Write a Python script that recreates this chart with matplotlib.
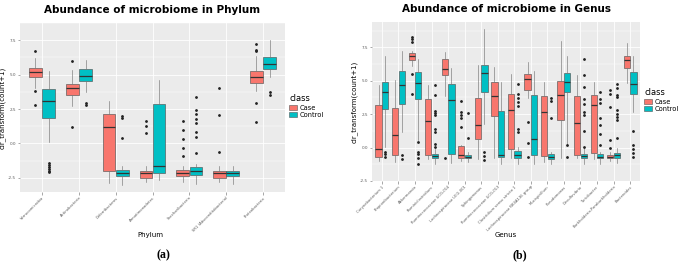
import matplotlib
matplotlib.use('Agg')
import matplotlib.pyplot as plt
from matplotlib.patches import Patch

# ---------------- Phylum data ----------------
phylum = ["Verrucomicrobia", "Actinobacteria", "Deferribacteres", "Armatimonadetes",
          "Saccharibacteria", "SR1 (Absconditabacteria)", "Proteobacteria"]
ph_case_lo  = [4.06, 2.69, -2.90, -2.83, -2.83, -2.83, 3.84]
ph_case_q1  = [4.86, 3.54, -2.03, -2.49, -2.40, -2.49, 4.41]
ph_case_med = [5.16, 4.02, 1.16, -2.17, -2.15, -2.15, 4.86]
ph_case_q3  = [5.50, 4.29, 2.12, -2.03, -1.94, -2.03, 5.27]
ph_case_hi  = [6.18, 5.32, 3.10, -1.64, -1.64, -1.64, 6.35]
ph_case_fl  = [[6.69, 3.84, 2.81], [5.96, 1.21], [], [1.66, 1.25, 0.75],
               [1.62, 0.98, 0.29, -0.32, -0.89], [4.06, 2.05, -0.62],
               [7.19, 6.80, 6.69, 2.97, 1.55]]
ph_ctrl_lo  = [0.07, 3.77, -3.00, -2.67, -2.97, -2.95, 4.79]
ph_ctrl_q1  = [1.83, 4.52, -2.38, -2.15, -2.33, -2.40, 5.43]
ph_ctrl_med = [3.10, 4.91, -2.15, -1.64, -1.99, -2.15, 5.77]
ph_ctrl_q3  = [3.99, 5.39, -1.94, 2.85, -1.71, -1.99, 6.28]
ph_ctrl_hi  = [5.25, 6.05, -1.64, 4.59, -1.53, -1.64, 7.53]
ph_ctrl_fl  = [[-1.42, -1.55, -1.70, -1.85, -2.00, -2.10], [2.97, 2.76], [2.00, 1.83, 0.41], [],
               [3.34, 2.40, 2.12, 1.78, 1.47, 0.85, 0.48, -0.66], [], [3.77, 3.54]]

# ---------------- Genus data ----------------
genus = ["Corynebacterium 1", "Propionibacterium", "Akkermansia", "Ruminiclostridium",
         "Ruminococcaceae UCG-014", "Lachnospiraceae UCG-001", "Sphingomonas",
         "Ruminococcaceae UCG-013", "Clostridium sensu stricto 1",
         "Lachnospiraceae NK4A136 group", "Mucispirillum", "Pseudomonas", "Desulfovibrio",
         "Turicibacter", "Burkholderia-Paraburkholderia", "Bacteroides"]
ge_case_lo  = [-0.99, -1.10, 6.10, -0.87, 3.83, -1.03, -0.87, -0.75, -0.75, 3.71, -1.10, -0.75, -0.75, -0.87, -1.00, 4.81]
ge_case_q1  = [-0.68, -0.56, 6.53, -0.59, 5.47, -0.75, 0.66, 2.37, -0.09, 4.30, -0.63, 2.06, -0.56, -0.40, -0.80, 5.94]
ge_case_med = [-0.12, 0.94, 6.83, 2.02, 5.89, -0.59, 1.71, 3.87, 2.82, 5.12, 2.70, 3.94, 1.83, 3.17, -0.68, 6.53]
ge_case_q3  = [3.17, 2.93, 7.06, 3.66, 6.64, 0.12, 3.71, 4.88, 4.01, 5.54, 3.89, 5.00, 3.89, 3.94, -0.56, 6.88]
ge_case_hi  = [4.65, 5.07, 7.23, 4.69, 7.18, 0.23, 6.17, 6.06, 5.54, 6.41, 4.93, 8.00, 5.40, 4.88, -0.35, 7.82]
ge_case_fl  = [[], [], [8.24, 8.10, 7.94, 5.51, 3.99], [], [-0.75], [3.47, 2.65, 2.45, 2.25, 1.55],
               [], [], [], [1.95, 0.37, -0.68], [], [], [], [], [4.30, 3.99, 3.05, 0.54, -0.05], []]
ge_ctrl_lo  = [0.07, 1.13, 0.56, -1.20, -1.17, -1.10, 1.76, -1.22, -1.22, -1.22, -1.20, 0.19, -1.22, -1.20, -1.17, 2.70]
ge_ctrl_q1  = [2.89, 3.24, 3.64, -0.77, -0.51, -0.80, 4.18, -0.68, -0.75, -0.56, -0.82, 4.13, -0.80, -0.80, -0.80, 4.01]
ge_ctrl_med = [4.13, 4.72, 4.81, -0.63, 3.59, -0.68, 5.58, -0.56, -0.59, 0.66, -0.68, 4.93, -0.63, -0.68, -0.59, 4.77]
ge_ctrl_q3  = [4.93, 5.70, 5.63, -0.47, 4.77, -0.56, 6.17, 2.72, -0.28, 3.94, -0.51, 5.58, -0.47, -0.51, -0.40, 5.65]
ge_ctrl_hi  = [6.88, 7.23, 6.64, -0.14, 5.94, -0.35, 8.87, 4.88, 0.07, 5.70, -0.35, 6.88, 0.07, -0.35, -0.05, 6.88]
ge_ctrl_fl  = [[-0.35, -0.50, -0.68], [-0.56, -0.85], [0.42, -0.30, -0.50, -0.77, -1.20],
               [4.65, 3.94, 2.77, 2.60, 2.42, 1.36, 1.20, 0.30, 0.07], [], [2.60, 0.70],
               [-0.35, -0.60, -0.92], [], [4.77, 3.99, 3.70, 3.40, 3.12, 1.36, 1.13],
               [], [3.71, 3.47, 2.18], [0.19, -0.68],
               [6.64, 5.47, 4.53, 3.64, 3.29, 2.65, 2.42, 1.24, 0.07],
               [4.18, 3.64, 3.36, 2.23, 1.71, 1.01, 0.19],
               [4.77, 4.46, 3.94, 3.76, 2.82, 2.55, 2.30, 2.06, 0.73],
               [1.24, 0.23, -0.10, -0.40, -0.68]]

CASE_C = "#F8766D"
CTRL_C = "#00BFC4"


def make_stats(lo, q1, med, q3, hi, fl):
    return [dict(whislo=a, q1=b, med=c, q3=d, whishi=e, fliers=f)
            for a, b, c, d, e, f in zip(lo, q1, med, q3, hi, fl)]


def draw(ax, cats, case, ctrl, ylim, off, w):
    n = len(cats)
    xs = list(range(1, n + 1))
    for stats, color, sgn in ((case, CASE_C, -1), (ctrl, CTRL_C, 1)):
        ax.bxp(stats, positions=[x + sgn * off for x in xs], widths=w,
               patch_artist=True, showcaps=False,
               boxprops=dict(facecolor=color, edgecolor="#555555", linewidth=0.45),
               medianprops=dict(color="#333333", linewidth=0.9),
               whiskerprops=dict(color="#777777", linewidth=0.45),
               flierprops=dict(marker='o', markersize=1.0, markerfacecolor='#222222',
                               markeredgecolor='#222222', linestyle='none'),
               manage_ticks=False, zorder=3)
    ax.set_xlim(0.4, n + 0.6)
    ax.set_ylim(*ylim)
    ax.set_facecolor("#EBEBEB")
    for s in ax.spines.values():
        s.set_visible(False)
    ax.set_xticks(xs)
    ax.set_xticklabels(cats, rotation=45, ha='right', rotation_mode='anchor',
                       fontsize=2.7, color="#5A5A5A")
    ax.set_yticks([-2.5, 0.0, 2.5, 5.0, 7.5])
    ax.set_yticklabels(["-2.5", "0.0", "2.5", "5.0", "7.5"], fontsize=3, color="#5A5A5A")
    ax.set_yticks([-1.25, 1.25, 3.75, 6.25, 8.75], minor=True)
    ax.tick_params(axis='both', which='major', length=1.8, width=0.4, color="#666666", pad=1)
    ax.tick_params(axis='y', which='minor', length=0)
    ax.grid(True, which='major', color='white', linewidth=0.6, zorder=0)
    ax.grid(True, which='minor', axis='y', color='white', linewidth=0.3, zorder=0)
    ax.set_axisbelow(True)
    ax.set_ylabel("clr_transform(count+1)", fontsize=5, labelpad=2)


fig = plt.figure(figsize=(6.85, 2.63), dpi=100)

ax1 = fig.add_axes([20 / 685, 1 - 192 / 263, 265 / 685, 169 / 263])
draw(ax1, phylum,
     make_stats(ph_case_lo, ph_case_q1, ph_case_med, ph_case_q3, ph_case_hi, ph_case_fl),
     make_stats(ph_ctrl_lo, ph_ctrl_q1, ph_ctrl_med, ph_ctrl_q3, ph_ctrl_hi, ph_ctrl_fl),
     (-3.53, 8.05), 0.18, 0.34)
ax1.set_title("Abundance of microbiome in Phylum", fontsize=7.5, fontweight='bold', pad=7)
fig.text(150 / 685, 1 - 235 / 263, "Phylum", fontsize=5, ha='center', va='center')

ax2 = fig.add_axes([372 / 685, 1 - 181 / 263, 268 / 685, 159 / 263])
draw(ax2, genus,
     make_stats(ge_case_lo, ge_case_q1, ge_case_med, ge_case_q3, ge_case_hi, ge_case_fl),
     make_stats(ge_ctrl_lo, ge_ctrl_q1, ge_ctrl_med, ge_ctrl_q3, ge_ctrl_hi, ge_ctrl_fl),
     (-1.74, 9.4), 0.2, 0.38)
ax2.set_title("Abundance of microbiome in Genus", fontsize=7.5, fontweight='bold', pad=7)
fig.text(506 / 685, 1 - 235 / 263, "Genus", fontsize=5, ha='center', va='center')

handles = [Patch(facecolor=CASE_C, edgecolor="#555555", linewidth=0.4, label="Case"),
           Patch(facecolor=CTRL_C, edgecolor="#555555", linewidth=0.4, label="Control")]
for bx, by in ((288 / 685, 1 - 93 / 263), (643 / 685, 1 - 87 / 263)):
    leg = fig.legend(handles=handles, title="class", loc='upper left',
                     bbox_to_anchor=(bx, by), frameon=False, fontsize=4.8,
                     title_fontsize=6, handlelength=1.2, handleheight=0.8,
                     handletextpad=0.4, labelspacing=0.2, borderaxespad=0,
                     borderpad=0.2)
    leg._legend_box.align = "left"

fig.text(163 / 685, 1 - 255 / 263, "(a)", fontsize=8.5, fontweight='bold',
         family='Liberation Serif', ha='center', va='center')
fig.text(520 / 685, 1 - 255 / 263, "(b)", fontsize=8.5, fontweight='bold',
         family='Liberation Serif', ha='center', va='center')

fig.savefig("out.png", dpi=100)
